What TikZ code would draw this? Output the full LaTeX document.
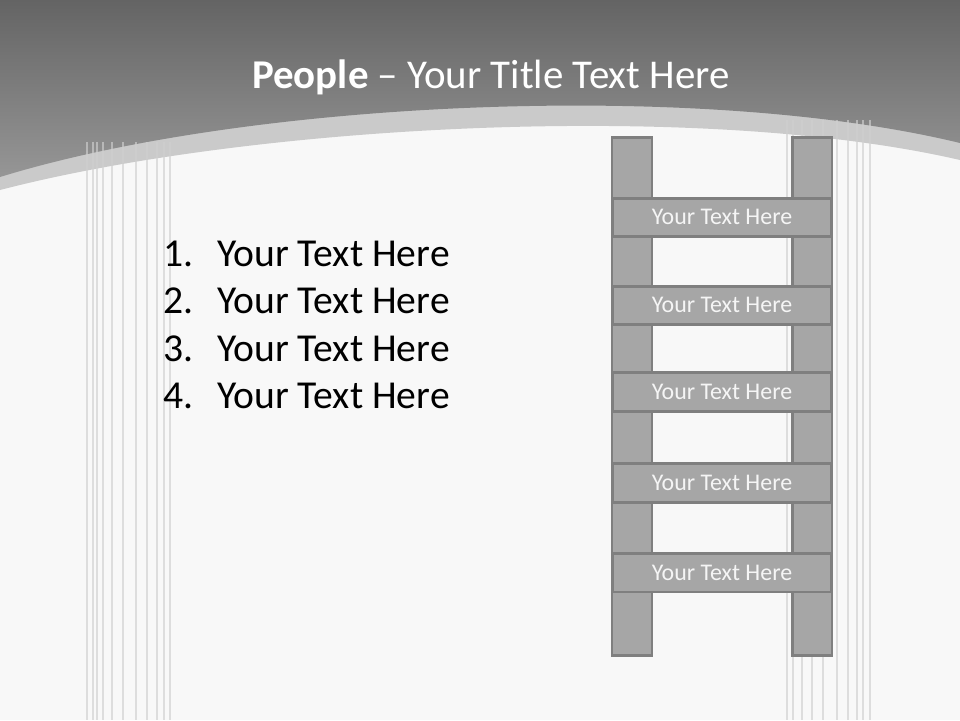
\documentclass[tikz,border=0pt]{standalone}
\usepackage{fontspec}
\setmainfont{Carlito}
\usetikzlibrary{positioning}
\definecolor{slidebg}{RGB}{248,248,248}
\definecolor{bandgray}{RGB}{202,202,202}
\definecolor{topdark}{RGB}{100,100,100}
\definecolor{topmid}{RGB}{150,150,150}
\definecolor{stripegray}{RGB}{208,208,208}
\definecolor{railfill}{RGB}{166,166,166}
\definecolor{railline}{RGB}{127,127,127}
\definecolor{rungtext}{RGB}{245,245,245}

\begin{document}
\begin{tikzpicture}[
  x=0.026458cm, y=-0.026458cm,
  stripe/.style={draw=stripegray, line width=1.9pt, opacity=0.65},
  railbox/.style={draw=railline, fill=railfill, line width=2.2pt},
  rung/.style={railbox, minimum width=5.794cm, minimum height=1.02cm, inner sep=0pt,
               text=rungtext, font=\fontsize{18}{21}\selectfont},
  item/.style={anchor=base west, inner sep=0pt, font=\fontsize{29.8}{35}\selectfont}
]
\useasboundingbox (0,0) rectangle (960,720);
\fill[slidebg] (0,0) rectangle (960,720);
\fill[bandgray] (0,0) -- (0,190) .. controls (250,125) and (700,100) .. (960,160) -- (960,0) -- cycle;
\shade[top color=topdark, bottom color=topmid] (0,0) -- (0,177) .. controls (250,100) and (700,80) .. (960,143) -- (960,0) -- cycle;

\foreach \x in {87,93,97,103,112,123,136,147,157,164,170}
  \draw[stripe] (\x,142) -- (\x,720);
\foreach \x in {787,793,802,812,823,837,848,857,863,870}
  \draw[stripe] (\x,120) -- (\x,720);

\node[anchor=base, inner sep=0pt, text=white, font=\fontsize{30.8}{37}\selectfont] (title) at (491,88)
  {\textbf{People} -- Your Title Text Here};

\foreach \i/\y in {1/266,2/313.5,3/361,4/408.5} {
  \node[item] (num\i) at (163,\y) {\i.};
  \node[item] (item\i) at (217,\y) {Your Text Here};
}

\draw[railbox] (612,137.5) rectangle (652,655.5);
\draw[railbox] (792.5,137.5) rectangle (832,655.5);
\foreach \i/\y in {1/217.4,2/305.4,3/392,4/483,5/572.7}
  \node[rung] (rung\i) at (722,\y) {Your Text Here};
\end{tikzpicture}
\end{document}
